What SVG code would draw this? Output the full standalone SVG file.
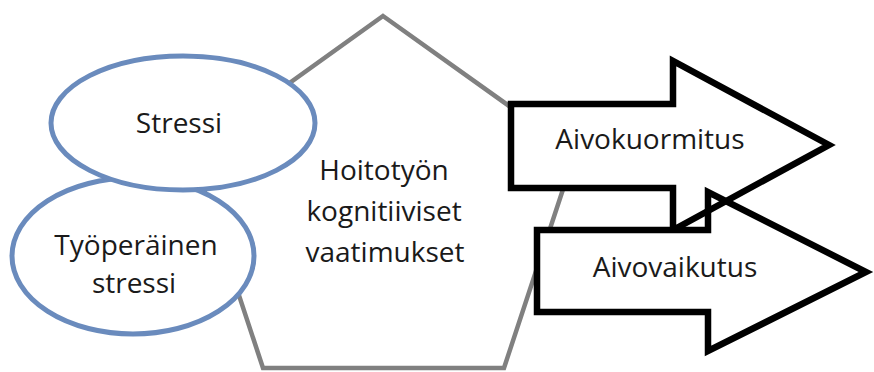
<svg xmlns="http://www.w3.org/2000/svg" width="874" height="372" viewBox="0 0 874 372">
  <style>
    .bg { fill: #ffffff; }
    .pent { fill: #ffffff; stroke: #808080; stroke-width: 4.5; stroke-linejoin: miter; }
    .oval { fill: #ffffff; stroke: #6a8bbd; stroke-width: 5; }
    .arrow { stroke: #000000; stroke-width: 6.5; stroke-linejoin: miter; stroke-miterlimit: 10; }
    .label { font-family: "Open Sans", "Noto Sans", "Liberation Sans", sans-serif; font-size: 28px; fill: #1a1a1a; text-anchor: middle; }
  </style>
  <rect class="bg" x="0" y="0" width="874" height="372"/>

  <g id="demands">
    <polygon class="pent" points="383,16 575,153 504,368 263,368 192,153"/>
    <text class="label" x="384" y="180">Hoitotyön</text>
    <text class="label" x="384" y="221">kognitiiviset</text>
    <text class="label" x="385" y="262">vaatimukset</text>
  </g>

  <g id="connectors">
    <g id="brain-load">
      <polygon class="arrow" fill="#ffffff" points="511,104 673,104 673,61 829,145 673,230 673,188 511,188"/>
      <text class="label" x="650" y="149">Aivokuormitus</text>
    </g>
    <g id="brain-effect">
      <!-- body is filled, head stays open so the other arrow shows through -->
      <rect x="537" y="230" width="171" height="82" fill="#ffffff"/>
      <polygon class="arrow" fill="none" points="537,230 708,230 708,192 866,272 708,351 708,312 537,312"/>
      <text class="label" x="675" y="277">Aivovaikutus</text>
    </g>
  </g>

  <g id="work-stress">
    <ellipse class="oval" cx="133" cy="256" rx="121" ry="78"/>
    <text class="label" x="136" y="255">Työperäinen</text>
    <text class="label" x="134" y="293">stressi</text>
  </g>

  <g id="stress">
    <ellipse class="oval" cx="183" cy="123" rx="132" ry="67"/>
    <text class="label" x="179" y="133">Stressi</text>
  </g>
</svg>
